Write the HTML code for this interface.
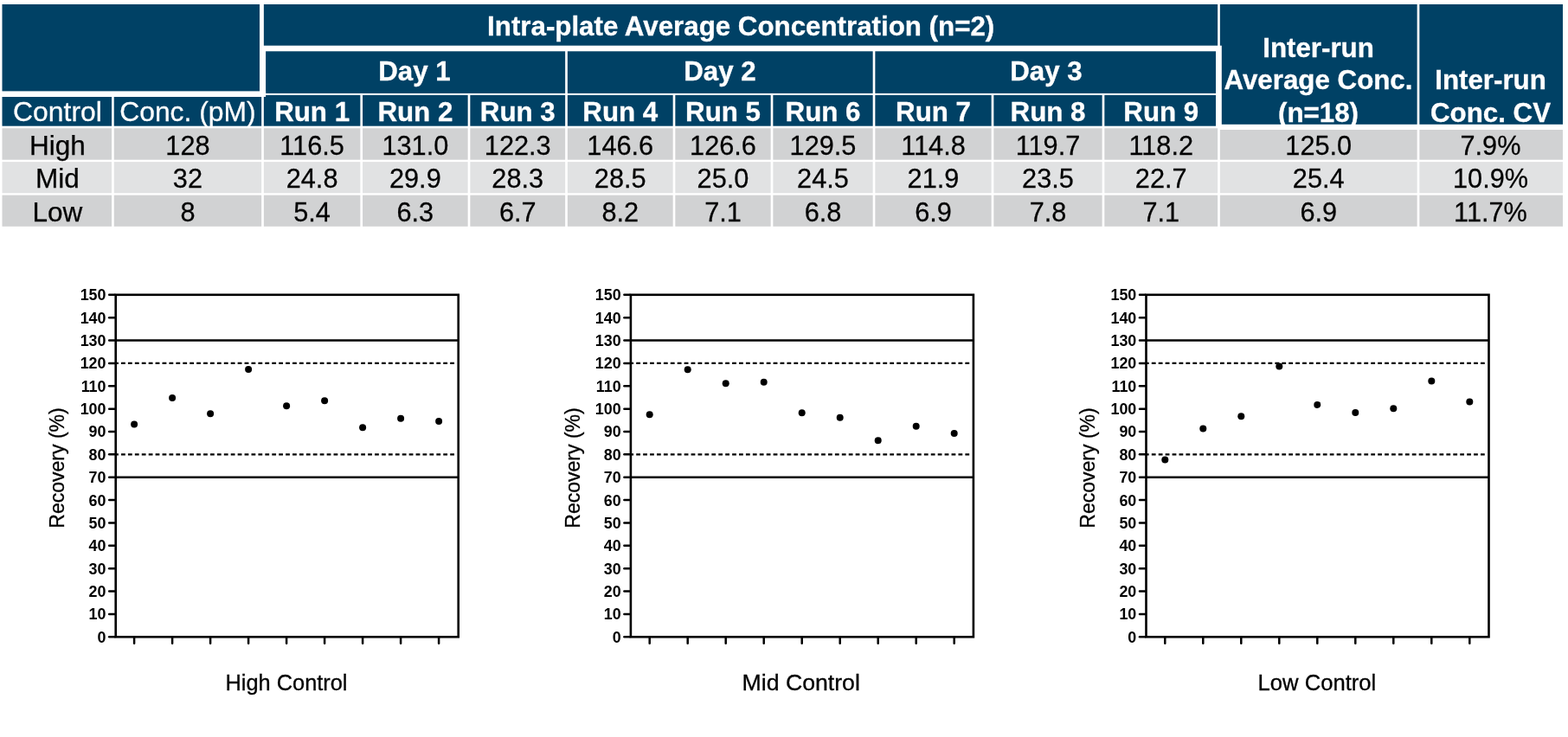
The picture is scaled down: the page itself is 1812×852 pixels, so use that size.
<!DOCTYPE html>
<html lang="en">
<head>
<meta charset="utf-8">
<title>Inter-run precision</title>
<style>
html,body{margin:0;padding:0;background:#fff;}
body{width:1812px;height:852px;overflow:hidden;}
svg{display:block;}
text{font-family:"Liberation Sans",Arial,Helvetica,sans-serif;text-anchor:middle;}
.d,.dl{font-size:31.5px;fill:#000;stroke:#000;stroke-width:0.25px;}
.h{font-size:31.5px;fill:#fff;stroke:#fff;stroke-width:0.25px;}
.hb{font-size:30.6px;fill:#fff;font-weight:bold;stroke:#fff;stroke-width:0.3px;}
.tk{font-weight:bold;font-size:17.9px;fill:#000;text-anchor:end;}
.lb{font-size:25px;fill:#000;stroke:#000;stroke-width:0.3px;}
.yl{font-size:23px;fill:#000;stroke:#000;stroke-width:0.3px;}
</style>
</head>
<body>
<svg width="1812" height="852" viewBox="0 0 1812 852">
<rect x="2.50" y="5.00" width="297.50" height="100.40" fill="#004165"/>
<rect x="2.50" y="112.00" width="126.55" height="33.70" fill="#004165"/>
<rect x="131.75" y="112.00" width="170.40" height="33.70" fill="#004165"/>
<rect x="304.85" y="5.00" width="1102.30" height="47.70" fill="#004165"/>
<rect x="307.10" y="59.30" width="346.05" height="48.60" fill="#004165"/>
<rect x="655.85" y="59.30" width="352.80" height="48.60" fill="#004165"/>
<rect x="1011.35" y="59.30" width="393.65" height="48.60" fill="#004165"/>
<rect x="304.85" y="110.00" width="111.50" height="35.70" fill="#004165"/>
<rect x="419.05" y="110.00" width="121.60" height="35.70" fill="#004165"/>
<rect x="543.35" y="110.00" width="109.80" height="35.70" fill="#004165"/>
<rect x="655.85" y="110.00" width="121.80" height="35.70" fill="#004165"/>
<rect x="780.35" y="110.00" width="110.30" height="35.70" fill="#004165"/>
<rect x="893.35" y="110.00" width="115.30" height="35.70" fill="#004165"/>
<rect x="1011.35" y="110.00" width="134.30" height="35.70" fill="#004165"/>
<rect x="1148.35" y="110.00" width="125.30" height="35.70" fill="#004165"/>
<rect x="1276.35" y="110.00" width="128.65" height="35.70" fill="#004165"/>
<rect x="1411.80" y="5.00" width="225.85" height="138.80" fill="#004165"/>
<rect x="1409.85" y="5.00" width="2.15" height="47.70" fill="#004165"/>
<rect x="1640.35" y="5.00" width="165.65" height="138.80" fill="#004165"/>
<rect x="300.00" y="105.40" width="7.10" height="6.60" fill="#fff"/>
<rect x="2.50" y="148.30" width="126.55" height="36.40" fill="#d1d2d3"/>
<rect x="131.75" y="148.30" width="170.40" height="36.40" fill="#d1d2d3"/>
<rect x="304.85" y="148.30" width="111.50" height="36.40" fill="#d1d2d3"/>
<rect x="419.05" y="148.30" width="121.60" height="36.40" fill="#d1d2d3"/>
<rect x="543.35" y="148.30" width="109.80" height="36.40" fill="#d1d2d3"/>
<rect x="655.85" y="148.30" width="121.80" height="36.40" fill="#d1d2d3"/>
<rect x="780.35" y="148.30" width="110.30" height="36.40" fill="#d1d2d3"/>
<rect x="893.35" y="148.30" width="115.30" height="36.40" fill="#d1d2d3"/>
<rect x="1011.35" y="148.30" width="134.30" height="36.40" fill="#d1d2d3"/>
<rect x="1148.35" y="148.30" width="125.30" height="36.40" fill="#d1d2d3"/>
<rect x="1276.35" y="148.30" width="130.80" height="36.40" fill="#d1d2d3"/>
<rect x="1409.85" y="150.00" width="227.80" height="34.70" fill="#d1d2d3"/>
<rect x="1640.35" y="150.00" width="165.65" height="34.70" fill="#d1d2d3"/>
<rect x="2.50" y="187.10" width="126.55" height="36.15" fill="#e1e2e3"/>
<rect x="131.75" y="187.10" width="170.40" height="36.15" fill="#e1e2e3"/>
<rect x="304.85" y="187.10" width="111.50" height="36.15" fill="#e1e2e3"/>
<rect x="419.05" y="187.10" width="121.60" height="36.15" fill="#e1e2e3"/>
<rect x="543.35" y="187.10" width="109.80" height="36.15" fill="#e1e2e3"/>
<rect x="655.85" y="187.10" width="121.80" height="36.15" fill="#e1e2e3"/>
<rect x="780.35" y="187.10" width="110.30" height="36.15" fill="#e1e2e3"/>
<rect x="893.35" y="187.10" width="115.30" height="36.15" fill="#e1e2e3"/>
<rect x="1011.35" y="187.10" width="134.30" height="36.15" fill="#e1e2e3"/>
<rect x="1148.35" y="187.10" width="125.30" height="36.15" fill="#e1e2e3"/>
<rect x="1276.35" y="187.10" width="130.80" height="36.15" fill="#e1e2e3"/>
<rect x="1409.85" y="187.10" width="227.80" height="36.15" fill="#e1e2e3"/>
<rect x="1640.35" y="187.10" width="165.65" height="36.15" fill="#e1e2e3"/>
<rect x="2.50" y="225.60" width="126.55" height="36.20" fill="#d1d2d3"/>
<rect x="131.75" y="225.60" width="170.40" height="36.20" fill="#d1d2d3"/>
<rect x="304.85" y="225.60" width="111.50" height="36.20" fill="#d1d2d3"/>
<rect x="419.05" y="225.60" width="121.60" height="36.20" fill="#d1d2d3"/>
<rect x="543.35" y="225.60" width="109.80" height="36.20" fill="#d1d2d3"/>
<rect x="655.85" y="225.60" width="121.80" height="36.20" fill="#d1d2d3"/>
<rect x="780.35" y="225.60" width="110.30" height="36.20" fill="#d1d2d3"/>
<rect x="893.35" y="225.60" width="115.30" height="36.20" fill="#d1d2d3"/>
<rect x="1011.35" y="225.60" width="134.30" height="36.20" fill="#d1d2d3"/>
<rect x="1148.35" y="225.60" width="125.30" height="36.20" fill="#d1d2d3"/>
<rect x="1276.35" y="225.60" width="130.80" height="36.20" fill="#d1d2d3"/>
<rect x="1409.85" y="225.60" width="227.80" height="36.20" fill="#d1d2d3"/>
<rect x="1640.35" y="225.60" width="165.65" height="36.20" fill="#d1d2d3"/>
<text class="dl" x="66.45" y="179.00">High</text>
<text class="d" transform="translate(216.95 179.00) scale(0.975 1)">128</text>
<text class="d" transform="translate(360.60 179.00) scale(0.975 1)">116.5</text>
<text class="d" transform="translate(479.85 179.00) scale(0.975 1)">131.0</text>
<text class="d" transform="translate(598.25 179.00) scale(0.975 1)">122.3</text>
<text class="d" transform="translate(716.75 179.00) scale(0.975 1)">146.6</text>
<text class="d" transform="translate(835.50 179.00) scale(0.975 1)">126.6</text>
<text class="d" transform="translate(951.00 179.00) scale(0.975 1)">129.5</text>
<text class="d" transform="translate(1078.50 179.00) scale(0.975 1)">114.8</text>
<text class="d" transform="translate(1211.00 179.00) scale(0.975 1)">119.7</text>
<text class="d" transform="translate(1341.75 179.00) scale(0.975 1)">118.2</text>
<text class="d" transform="translate(1523.75 179.00) scale(0.975 1)">125.0</text>
<text class="d" transform="translate(1722.50 179.00) scale(0.975 1)">7.9%</text>
<text class="dl" x="66.45" y="217.00">Mid</text>
<text class="d" transform="translate(216.95 217.00) scale(0.975 1)">32</text>
<text class="d" transform="translate(360.60 217.00) scale(0.975 1)">24.8</text>
<text class="d" transform="translate(479.85 217.00) scale(0.975 1)">29.9</text>
<text class="d" transform="translate(598.25 217.00) scale(0.975 1)">28.3</text>
<text class="d" transform="translate(716.75 217.00) scale(0.975 1)">28.5</text>
<text class="d" transform="translate(835.50 217.00) scale(0.975 1)">25.0</text>
<text class="d" transform="translate(951.00 217.00) scale(0.975 1)">24.5</text>
<text class="d" transform="translate(1078.50 217.00) scale(0.975 1)">21.9</text>
<text class="d" transform="translate(1211.00 217.00) scale(0.975 1)">23.5</text>
<text class="d" transform="translate(1341.75 217.00) scale(0.975 1)">22.7</text>
<text class="d" transform="translate(1523.75 217.00) scale(0.975 1)">25.4</text>
<text class="d" transform="translate(1722.50 217.00) scale(0.975 1)">10.9%</text>
<text class="dl" x="66.45" y="256.00">Low</text>
<text class="d" transform="translate(216.95 256.00) scale(0.975 1)">8</text>
<text class="d" transform="translate(360.60 256.00) scale(0.975 1)">5.4</text>
<text class="d" transform="translate(479.85 256.00) scale(0.975 1)">6.3</text>
<text class="d" transform="translate(598.25 256.00) scale(0.975 1)">6.7</text>
<text class="d" transform="translate(716.75 256.00) scale(0.975 1)">8.2</text>
<text class="d" transform="translate(835.50 256.00) scale(0.975 1)">7.1</text>
<text class="d" transform="translate(951.00 256.00) scale(0.975 1)">6.8</text>
<text class="d" transform="translate(1078.50 256.00) scale(0.975 1)">6.9</text>
<text class="d" transform="translate(1211.00 256.00) scale(0.975 1)">7.8</text>
<text class="d" transform="translate(1341.75 256.00) scale(0.975 1)">7.1</text>
<text class="d" transform="translate(1523.75 256.00) scale(0.975 1)">6.9</text>
<text class="d" transform="translate(1722.50 256.00) scale(0.975 1)">11.7%</text>
<text class="h" transform="translate(66.45 140.00) scale(1.012 1)">Control</text>
<text class="h" transform="translate(216.95 140.00) scale(1.012 1)">Conc. (pM)</text>
<text class="hb" transform="translate(360.60 140.00) scale(1.023 1)">Run 1</text>
<text class="hb" transform="translate(479.85 140.00) scale(1.023 1)">Run 2</text>
<text class="hb" transform="translate(598.25 140.00) scale(1.023 1)">Run 3</text>
<text class="hb" transform="translate(716.75 140.00) scale(1.023 1)">Run 4</text>
<text class="hb" transform="translate(835.50 140.00) scale(1.023 1)">Run 5</text>
<text class="hb" transform="translate(951.00 140.00) scale(1.023 1)">Run 6</text>
<text class="hb" transform="translate(1078.50 140.00) scale(1.023 1)">Run 7</text>
<text class="hb" transform="translate(1211.00 140.00) scale(1.023 1)">Run 8</text>
<text class="hb" transform="translate(1341.75 140.00) scale(1.023 1)">Run 9</text>
<text class="hb" transform="translate(856.15 41.00) scale(1.023 1)">Intra-plate Average Concentration (n=2)</text>
<text class="hb" transform="translate(479.00 93.00) scale(1.023 1)">Day 1</text>
<text class="hb" transform="translate(832.00 93.00) scale(1.023 1)">Day 2</text>
<text class="hb" transform="translate(1209.00 93.00) scale(1.023 1)">Day 3</text>
<text class="hb" transform="translate(1523.50 66.00) scale(1.023 1)">Inter-run</text>
<text class="hb" transform="translate(1523.50 103.00) scale(1.023 1)">Average Conc.</text>
<text class="hb" transform="translate(1523.50 141.00) scale(1.023 1)">(n=18)</text>
<text class="hb" transform="translate(1722.50 103.00) scale(1.023 1)">Inter-run</text>
<text class="hb" transform="translate(1722.50 141.00) scale(1.023 1)">Conc. CV</text>
<rect x="133.70" y="340.80" width="396.00" height="395.50" fill="none" stroke="#000" stroke-width="2.6"/>
<line x1="126.20" y1="736.30" x2="132.50" y2="736.30" stroke="#000" stroke-width="2.5" stroke-linecap="round"/>
<text class="tk" x="122.50" y="742.70">0</text>
<line x1="126.20" y1="709.93" x2="132.50" y2="709.93" stroke="#000" stroke-width="2.5" stroke-linecap="round"/>
<text class="tk" x="122.50" y="716.33">10</text>
<line x1="126.20" y1="683.57" x2="132.50" y2="683.57" stroke="#000" stroke-width="2.5" stroke-linecap="round"/>
<text class="tk" x="122.50" y="689.97">20</text>
<line x1="126.20" y1="657.20" x2="132.50" y2="657.20" stroke="#000" stroke-width="2.5" stroke-linecap="round"/>
<text class="tk" x="122.50" y="663.60">30</text>
<line x1="126.20" y1="630.83" x2="132.50" y2="630.83" stroke="#000" stroke-width="2.5" stroke-linecap="round"/>
<text class="tk" x="122.50" y="637.23">40</text>
<line x1="126.20" y1="604.47" x2="132.50" y2="604.47" stroke="#000" stroke-width="2.5" stroke-linecap="round"/>
<text class="tk" x="122.50" y="610.87">50</text>
<line x1="126.20" y1="578.10" x2="132.50" y2="578.10" stroke="#000" stroke-width="2.5" stroke-linecap="round"/>
<text class="tk" x="122.50" y="584.50">60</text>
<line x1="126.20" y1="551.73" x2="132.50" y2="551.73" stroke="#000" stroke-width="2.5" stroke-linecap="round"/>
<text class="tk" x="122.50" y="558.13">70</text>
<line x1="126.20" y1="525.37" x2="132.50" y2="525.37" stroke="#000" stroke-width="2.5" stroke-linecap="round"/>
<text class="tk" x="122.50" y="531.77">80</text>
<line x1="126.20" y1="499.00" x2="132.50" y2="499.00" stroke="#000" stroke-width="2.5" stroke-linecap="round"/>
<text class="tk" x="122.50" y="505.40">90</text>
<line x1="126.20" y1="472.63" x2="132.50" y2="472.63" stroke="#000" stroke-width="2.5" stroke-linecap="round"/>
<text class="tk" x="122.50" y="479.03">100</text>
<line x1="126.20" y1="446.27" x2="132.50" y2="446.27" stroke="#000" stroke-width="2.5" stroke-linecap="round"/>
<text class="tk" x="122.50" y="452.67">110</text>
<line x1="126.20" y1="419.90" x2="132.50" y2="419.90" stroke="#000" stroke-width="2.5" stroke-linecap="round"/>
<text class="tk" x="122.50" y="426.30">120</text>
<line x1="126.20" y1="393.53" x2="132.50" y2="393.53" stroke="#000" stroke-width="2.5" stroke-linecap="round"/>
<text class="tk" x="122.50" y="399.93">130</text>
<line x1="126.20" y1="367.17" x2="132.50" y2="367.17" stroke="#000" stroke-width="2.5" stroke-linecap="round"/>
<text class="tk" x="122.50" y="373.57">140</text>
<line x1="126.20" y1="340.80" x2="132.50" y2="340.80" stroke="#000" stroke-width="2.5" stroke-linecap="round"/>
<text class="tk" x="122.50" y="347.20">150</text>
<line x1="133.70" y1="393.53" x2="529.70" y2="393.53" stroke="#000" stroke-width="2.5"/>
<line x1="133.70" y1="551.73" x2="529.70" y2="551.73" stroke="#000" stroke-width="2.5"/>
<line x1="133.70" y1="419.90" x2="525.70" y2="419.90" stroke="#000" stroke-width="2.1" stroke-dasharray="4.8 3.12" stroke-dashoffset="1.6"/>
<line x1="133.70" y1="525.37" x2="525.70" y2="525.37" stroke="#000" stroke-width="2.1" stroke-dasharray="4.8 3.12" stroke-dashoffset="1.6"/>
<line x1="155.10" y1="736.30" x2="155.10" y2="743.80" stroke="#000" stroke-width="2.5" stroke-linecap="round"/>
<circle cx="155.10" cy="490.56" r="4"/>
<line x1="199.10" y1="736.30" x2="199.10" y2="743.80" stroke="#000" stroke-width="2.5" stroke-linecap="round"/>
<circle cx="199.10" cy="459.98" r="4"/>
<line x1="243.10" y1="736.30" x2="243.10" y2="743.80" stroke="#000" stroke-width="2.5" stroke-linecap="round"/>
<circle cx="243.10" cy="478.33" r="4"/>
<line x1="287.10" y1="736.30" x2="287.10" y2="743.80" stroke="#000" stroke-width="2.5" stroke-linecap="round"/>
<circle cx="287.10" cy="427.07" r="4"/>
<line x1="331.10" y1="736.30" x2="331.10" y2="743.80" stroke="#000" stroke-width="2.5" stroke-linecap="round"/>
<circle cx="331.10" cy="469.26" r="4"/>
<line x1="375.10" y1="736.30" x2="375.10" y2="743.80" stroke="#000" stroke-width="2.5" stroke-linecap="round"/>
<circle cx="375.10" cy="463.14" r="4"/>
<line x1="419.10" y1="736.30" x2="419.10" y2="743.80" stroke="#000" stroke-width="2.5" stroke-linecap="round"/>
<circle cx="419.10" cy="494.15" r="4"/>
<line x1="463.10" y1="736.30" x2="463.10" y2="743.80" stroke="#000" stroke-width="2.5" stroke-linecap="round"/>
<circle cx="463.10" cy="483.81" r="4"/>
<line x1="507.10" y1="736.30" x2="507.10" y2="743.80" stroke="#000" stroke-width="2.5" stroke-linecap="round"/>
<circle cx="507.10" cy="486.98" r="4"/>
<text class="lb" transform="translate(331.00 798.00) scale(1.0150 1)">High Control</text>
<text class="yl" transform="translate(74.10 541.00) rotate(-90)">Recovery (%)</text>
<rect x="728.90" y="340.80" width="396.00" height="395.50" fill="none" stroke="#000" stroke-width="2.6"/>
<line x1="721.40" y1="736.30" x2="727.70" y2="736.30" stroke="#000" stroke-width="2.5" stroke-linecap="round"/>
<text class="tk" x="717.70" y="742.70">0</text>
<line x1="721.40" y1="709.93" x2="727.70" y2="709.93" stroke="#000" stroke-width="2.5" stroke-linecap="round"/>
<text class="tk" x="717.70" y="716.33">10</text>
<line x1="721.40" y1="683.57" x2="727.70" y2="683.57" stroke="#000" stroke-width="2.5" stroke-linecap="round"/>
<text class="tk" x="717.70" y="689.97">20</text>
<line x1="721.40" y1="657.20" x2="727.70" y2="657.20" stroke="#000" stroke-width="2.5" stroke-linecap="round"/>
<text class="tk" x="717.70" y="663.60">30</text>
<line x1="721.40" y1="630.83" x2="727.70" y2="630.83" stroke="#000" stroke-width="2.5" stroke-linecap="round"/>
<text class="tk" x="717.70" y="637.23">40</text>
<line x1="721.40" y1="604.47" x2="727.70" y2="604.47" stroke="#000" stroke-width="2.5" stroke-linecap="round"/>
<text class="tk" x="717.70" y="610.87">50</text>
<line x1="721.40" y1="578.10" x2="727.70" y2="578.10" stroke="#000" stroke-width="2.5" stroke-linecap="round"/>
<text class="tk" x="717.70" y="584.50">60</text>
<line x1="721.40" y1="551.73" x2="727.70" y2="551.73" stroke="#000" stroke-width="2.5" stroke-linecap="round"/>
<text class="tk" x="717.70" y="558.13">70</text>
<line x1="721.40" y1="525.37" x2="727.70" y2="525.37" stroke="#000" stroke-width="2.5" stroke-linecap="round"/>
<text class="tk" x="717.70" y="531.77">80</text>
<line x1="721.40" y1="499.00" x2="727.70" y2="499.00" stroke="#000" stroke-width="2.5" stroke-linecap="round"/>
<text class="tk" x="717.70" y="505.40">90</text>
<line x1="721.40" y1="472.63" x2="727.70" y2="472.63" stroke="#000" stroke-width="2.5" stroke-linecap="round"/>
<text class="tk" x="717.70" y="479.03">100</text>
<line x1="721.40" y1="446.27" x2="727.70" y2="446.27" stroke="#000" stroke-width="2.5" stroke-linecap="round"/>
<text class="tk" x="717.70" y="452.67">110</text>
<line x1="721.40" y1="419.90" x2="727.70" y2="419.90" stroke="#000" stroke-width="2.5" stroke-linecap="round"/>
<text class="tk" x="717.70" y="426.30">120</text>
<line x1="721.40" y1="393.53" x2="727.70" y2="393.53" stroke="#000" stroke-width="2.5" stroke-linecap="round"/>
<text class="tk" x="717.70" y="399.93">130</text>
<line x1="721.40" y1="367.17" x2="727.70" y2="367.17" stroke="#000" stroke-width="2.5" stroke-linecap="round"/>
<text class="tk" x="717.70" y="373.57">140</text>
<line x1="721.40" y1="340.80" x2="727.70" y2="340.80" stroke="#000" stroke-width="2.5" stroke-linecap="round"/>
<text class="tk" x="717.70" y="347.20">150</text>
<line x1="728.90" y1="393.53" x2="1124.90" y2="393.53" stroke="#000" stroke-width="2.5"/>
<line x1="728.90" y1="551.73" x2="1124.90" y2="551.73" stroke="#000" stroke-width="2.5"/>
<line x1="728.90" y1="419.90" x2="1120.90" y2="419.90" stroke="#000" stroke-width="2.1" stroke-dasharray="4.8 3.12" stroke-dashoffset="1.6"/>
<line x1="728.90" y1="525.37" x2="1120.90" y2="525.37" stroke="#000" stroke-width="2.1" stroke-dasharray="4.8 3.12" stroke-dashoffset="1.6"/>
<line x1="750.70" y1="736.30" x2="750.70" y2="743.80" stroke="#000" stroke-width="2.5" stroke-linecap="round"/>
<circle cx="750.70" cy="479.23" r="4"/>
<line x1="794.70" y1="736.30" x2="794.70" y2="743.80" stroke="#000" stroke-width="2.5" stroke-linecap="round"/>
<circle cx="794.70" cy="427.15" r="4"/>
<line x1="838.70" y1="736.30" x2="838.70" y2="743.80" stroke="#000" stroke-width="2.5" stroke-linecap="round"/>
<circle cx="838.70" cy="443.37" r="4"/>
<line x1="882.70" y1="736.30" x2="882.70" y2="743.80" stroke="#000" stroke-width="2.5" stroke-linecap="round"/>
<circle cx="882.70" cy="441.63" r="4"/>
<line x1="926.70" y1="736.30" x2="926.70" y2="743.80" stroke="#000" stroke-width="2.5" stroke-linecap="round"/>
<circle cx="926.70" cy="477.30" r="4"/>
<line x1="970.70" y1="736.30" x2="970.70" y2="743.80" stroke="#000" stroke-width="2.5" stroke-linecap="round"/>
<circle cx="970.70" cy="482.65" r="4"/>
<line x1="1014.70" y1="736.30" x2="1014.70" y2="743.80" stroke="#000" stroke-width="2.5" stroke-linecap="round"/>
<circle cx="1014.70" cy="509.20" r="4"/>
<line x1="1058.70" y1="736.30" x2="1058.70" y2="743.80" stroke="#000" stroke-width="2.5" stroke-linecap="round"/>
<circle cx="1058.70" cy="492.80" r="4"/>
<line x1="1102.70" y1="736.30" x2="1102.70" y2="743.80" stroke="#000" stroke-width="2.5" stroke-linecap="round"/>
<circle cx="1102.70" cy="501.11" r="4"/>
<text class="lb" transform="translate(925.70 798.00) scale(1.0670 1)">Mid Control</text>
<text class="yl" transform="translate(669.80 541.00) rotate(-90)">Recovery (%)</text>
<rect x="1324.50" y="340.80" width="396.00" height="395.50" fill="none" stroke="#000" stroke-width="2.6"/>
<line x1="1317.00" y1="736.30" x2="1323.30" y2="736.30" stroke="#000" stroke-width="2.5" stroke-linecap="round"/>
<text class="tk" x="1313.30" y="742.70">0</text>
<line x1="1317.00" y1="709.93" x2="1323.30" y2="709.93" stroke="#000" stroke-width="2.5" stroke-linecap="round"/>
<text class="tk" x="1313.30" y="716.33">10</text>
<line x1="1317.00" y1="683.57" x2="1323.30" y2="683.57" stroke="#000" stroke-width="2.5" stroke-linecap="round"/>
<text class="tk" x="1313.30" y="689.97">20</text>
<line x1="1317.00" y1="657.20" x2="1323.30" y2="657.20" stroke="#000" stroke-width="2.5" stroke-linecap="round"/>
<text class="tk" x="1313.30" y="663.60">30</text>
<line x1="1317.00" y1="630.83" x2="1323.30" y2="630.83" stroke="#000" stroke-width="2.5" stroke-linecap="round"/>
<text class="tk" x="1313.30" y="637.23">40</text>
<line x1="1317.00" y1="604.47" x2="1323.30" y2="604.47" stroke="#000" stroke-width="2.5" stroke-linecap="round"/>
<text class="tk" x="1313.30" y="610.87">50</text>
<line x1="1317.00" y1="578.10" x2="1323.30" y2="578.10" stroke="#000" stroke-width="2.5" stroke-linecap="round"/>
<text class="tk" x="1313.30" y="584.50">60</text>
<line x1="1317.00" y1="551.73" x2="1323.30" y2="551.73" stroke="#000" stroke-width="2.5" stroke-linecap="round"/>
<text class="tk" x="1313.30" y="558.13">70</text>
<line x1="1317.00" y1="525.37" x2="1323.30" y2="525.37" stroke="#000" stroke-width="2.5" stroke-linecap="round"/>
<text class="tk" x="1313.30" y="531.77">80</text>
<line x1="1317.00" y1="499.00" x2="1323.30" y2="499.00" stroke="#000" stroke-width="2.5" stroke-linecap="round"/>
<text class="tk" x="1313.30" y="505.40">90</text>
<line x1="1317.00" y1="472.63" x2="1323.30" y2="472.63" stroke="#000" stroke-width="2.5" stroke-linecap="round"/>
<text class="tk" x="1313.30" y="479.03">100</text>
<line x1="1317.00" y1="446.27" x2="1323.30" y2="446.27" stroke="#000" stroke-width="2.5" stroke-linecap="round"/>
<text class="tk" x="1313.30" y="452.67">110</text>
<line x1="1317.00" y1="419.90" x2="1323.30" y2="419.90" stroke="#000" stroke-width="2.5" stroke-linecap="round"/>
<text class="tk" x="1313.30" y="426.30">120</text>
<line x1="1317.00" y1="393.53" x2="1323.30" y2="393.53" stroke="#000" stroke-width="2.5" stroke-linecap="round"/>
<text class="tk" x="1313.30" y="399.93">130</text>
<line x1="1317.00" y1="367.17" x2="1323.30" y2="367.17" stroke="#000" stroke-width="2.5" stroke-linecap="round"/>
<text class="tk" x="1313.30" y="373.57">140</text>
<line x1="1317.00" y1="340.80" x2="1323.30" y2="340.80" stroke="#000" stroke-width="2.5" stroke-linecap="round"/>
<text class="tk" x="1313.30" y="347.20">150</text>
<line x1="1324.50" y1="393.53" x2="1720.50" y2="393.53" stroke="#000" stroke-width="2.5"/>
<line x1="1324.50" y1="551.73" x2="1720.50" y2="551.73" stroke="#000" stroke-width="2.5"/>
<line x1="1324.50" y1="419.90" x2="1716.50" y2="419.90" stroke="#000" stroke-width="2.1" stroke-dasharray="4.8 3.12" stroke-dashoffset="1.6"/>
<line x1="1324.50" y1="525.37" x2="1716.50" y2="525.37" stroke="#000" stroke-width="2.1" stroke-dasharray="4.8 3.12" stroke-dashoffset="1.6"/>
<line x1="1346.30" y1="736.30" x2="1346.30" y2="743.80" stroke="#000" stroke-width="2.5" stroke-linecap="round"/>
<circle cx="1346.30" cy="531.62" r="4"/>
<line x1="1390.30" y1="736.30" x2="1390.30" y2="743.80" stroke="#000" stroke-width="2.5" stroke-linecap="round"/>
<circle cx="1390.30" cy="495.57" r="4"/>
<line x1="1434.30" y1="736.30" x2="1434.30" y2="743.80" stroke="#000" stroke-width="2.5" stroke-linecap="round"/>
<circle cx="1434.30" cy="481.33" r="4"/>
<line x1="1478.30" y1="736.30" x2="1478.30" y2="743.80" stroke="#000" stroke-width="2.5" stroke-linecap="round"/>
<circle cx="1478.30" cy="423.59" r="4"/>
<line x1="1522.30" y1="736.30" x2="1522.30" y2="743.80" stroke="#000" stroke-width="2.5" stroke-linecap="round"/>
<circle cx="1522.30" cy="467.89" r="4"/>
<line x1="1566.30" y1="736.30" x2="1566.30" y2="743.80" stroke="#000" stroke-width="2.5" stroke-linecap="round"/>
<circle cx="1566.30" cy="477.12" r="4"/>
<line x1="1610.30" y1="736.30" x2="1610.30" y2="743.80" stroke="#000" stroke-width="2.5" stroke-linecap="round"/>
<circle cx="1610.30" cy="472.37" r="4"/>
<line x1="1654.30" y1="736.30" x2="1654.30" y2="743.80" stroke="#000" stroke-width="2.5" stroke-linecap="round"/>
<circle cx="1654.30" cy="440.55" r="4"/>
<line x1="1698.30" y1="736.30" x2="1698.30" y2="743.80" stroke="#000" stroke-width="2.5" stroke-linecap="round"/>
<circle cx="1698.30" cy="464.54" r="4"/>
<text class="lb" transform="translate(1521.90 798.00) scale(1.0260 1)">Low Control</text>
<text class="yl" transform="translate(1265.40 541.00) rotate(-90)">Recovery (%)</text>
</svg>
</body>
</html>
